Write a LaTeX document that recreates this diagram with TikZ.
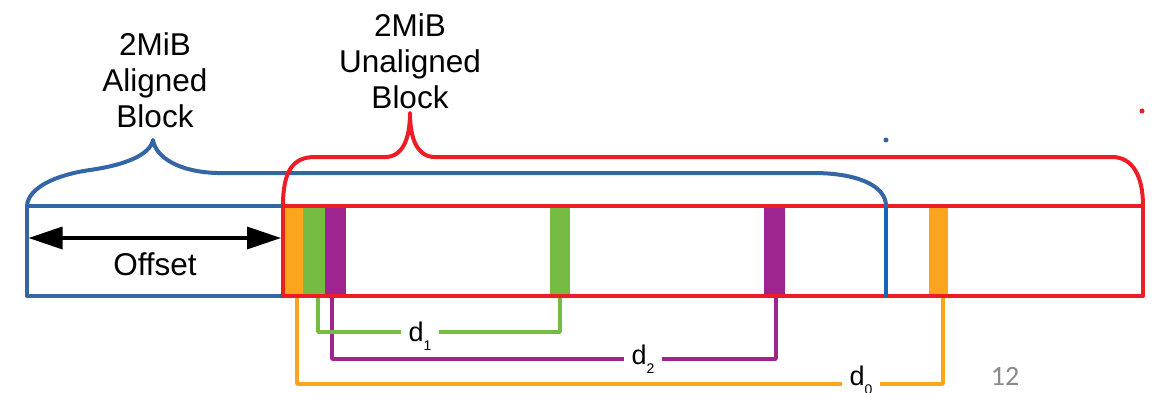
\documentclass[tikz,border=0pt]{standalone}
\usepackage{fontspec}
\setmainfont{Liberation Sans}
\newfontfamily\slidefont{Carlito}
\usetikzlibrary{arrows.meta}
\definecolor{bblue}{HTML}{3465A4}
\definecolor{vblue}{HTML}{1565B8}
\definecolor{rred}{HTML}{EE1C25}
\definecolor{oorange}{HTML}{F9A61C}
\definecolor{ggreen}{HTML}{76BC43}
\definecolor{ppurple}{HTML}{9E248F}
\definecolor{slidegray}{HTML}{8A8A8A}
\begin{document}
\begin{tikzpicture}[x=1pt,y=-1pt,
  outline/.style={line width=4pt, line join=round, line cap=round},
  conn/.style={line width=3.5pt, line join=round},
  bar/.style={rectangle, inner sep=0pt, outer sep=0pt, draw=none, minimum height=90pt},
  blockframe/.style={rectangle, inner sep=0pt, outer sep=0pt, minimum height=90pt, line width=4pt, line join=round},
  title/.style={align=center, inner sep=0pt, font=\fontsize{31.5}{36}\selectfont},
  lab/.style={fill=white, inner xsep=8pt, inner ysep=1pt, font=\fontsize{27}{27}\selectfont},
  dotmark/.style={circle, inner sep=0pt, minimum size=5pt, draw=none},
]
\useasboundingbox (0,0) rectangle (1153,393);

% aligned block frame
\node[blockframe, draw=bblue, minimum width=859pt] (ab) at (456.5,251) {};

% coloured bars
\node[bar, fill=oorange, minimum width=18pt] (o1) at (294,251) {};
\node[bar, fill=ggreen,  minimum width=22pt] (g1) at (314,251) {};
\node[bar, fill=ppurple, minimum width=21pt] (p1) at (335.5,251) {};
\node[bar, fill=ggreen,  minimum width=20pt] (g2) at (560,251) {};
\node[bar, fill=ppurple, minimum width=21pt] (p2) at (774.5,251) {};
\node[bar, fill=oorange, minimum width=19pt] (o2) at (938.5,251) {};

% distance connectors
\draw[conn, oorange] ([xshift=3pt]o1.south) -- ++(0,88) -| ([xshift=4.5pt]o2.south);
\draw[conn, ppurple] ([xshift=-3.5pt]p1.south) -- ++(0,63) -| ([xshift=1.5pt]p2.south);
\draw[conn, ggreen] ([xshift=4pt]g1.south) -- ++(0,36) -| (g2.south);

% unaligned block frame
\node[blockframe, draw=rred, minimum width=860pt] (ub) at (713,251) {};
\draw[outline, vblue] (ab.north east) -- (ab.south east);

% braces
\draw[outline, bblue] (ab.north west) .. controls (28,188) and (55,175) .. (90,170)
  .. controls (125,165) and (150,155) .. (153,140)
  .. controls (156,158) and (180,172) .. (217,173) -- (813,173)
  .. controls (858,173) and (886,186) .. (ab.north east);
\draw[outline, rred] (ub.north west) .. controls (283,172) and (292,157) .. (315,157) -- (385,157)
  .. controls (402,157) and (410,140) .. (410,113)
  .. controls (410,140) and (418,157) .. (435,157) -- (1112,157)
  .. controls (1132,157) and (1143,175) .. (ub.north east);

% titles
\node[title, anchor=north] (alab) at (155,32) {2MiB\\Aligned\\Block};
\node[title, anchor=north] (ulab) at (410,13) {2MiB\\Unaligned\\Block};

% offset arrow
\coordinate (offL) at (28.5,238);
\coordinate (offR) at (281,238);
\draw[line width=3.5pt, {Triangle[length=34pt,width=22pt]}-{Triangle[length=34pt,width=22pt]}] (offL) -- (offR);
\node[font=\fontsize{31.5}{36}\selectfont, anchor=base] (off) at (155,275) {Offset};

% distance labels
\node[lab, anchor=base] (d1) at (420,341) {d\raisebox{-9.5pt}{\fontsize{14}{14}\selectfont 1}};
\node[lab, anchor=base] (d2) at (643,364) {d\raisebox{-9.5pt}{\fontsize{14}{14}\selectfont 2}};
\node[lab, anchor=base] (d0) at (861,385) {d\raisebox{-9.5pt}{\fontsize{14}{14}\selectfont 0}};

% slide number
\node[font=\slidefont\fontsize{28}{28}\selectfont, text=slidegray, anchor=base] (pg) at (1005,385) {12};

% stray dots
\node[dotmark, fill=bblue] (bdot) at (886,140) {};
\node[dotmark, fill=rred] (rdot) at (1142,111) {};
\end{tikzpicture}
\end{document}
